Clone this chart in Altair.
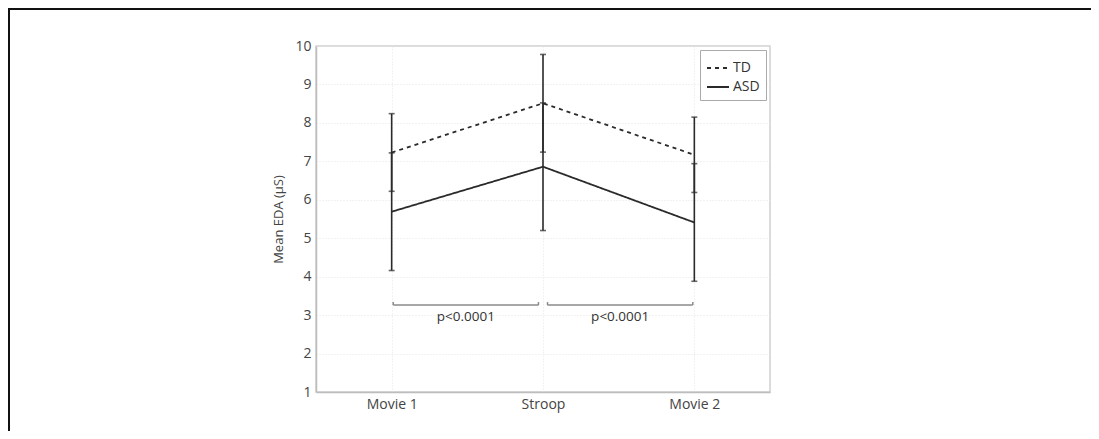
import altair as alt
import pandas as pd

conditions = ["Movie 1", "Stroop", "Movie 2"]
x_pos = [1, 2, 3]
td_mean = [7.23, 8.51, 7.17]
td_sd = [1.01, 1.27, 0.98]
asd_mean = [5.69, 6.86, 5.41]
asd_sd = [1.53, 1.66, 1.53]
bracket_start = [1.01, 2.03]
bracket_end = [1.97, 2.99]
bracket_y = [3.26, 3.26]
bracket_tip = [3.34, 3.34]
bracket_label = ["p<0.0001", "p<0.0001"]
label_y = [2.95, 2.95]
y_ticks = list(range(1, 11))

rows = []
for g, m, s in [("TD", td_mean, td_sd), ("ASD", asd_mean, asd_sd)]:
    for c, x, mm, ss in zip(conditions, x_pos, m, s):
        rows.append(dict(group=g, cond=c, x=x, mean=mm, lo=round(mm - ss, 3), hi=round(mm + ss, 3)))
df = pd.DataFrame(rows)

br = pd.DataFrame(dict(x1=bracket_start, x2=bracket_end, y=bracket_y, yt=bracket_tip,
                       label=bracket_label, ly=label_y,
                       xm=[(a + b) / 2 for a, b in zip(bracket_start, bracket_end)]))
br_ends = pd.DataFrame(dict(x=bracket_start + bracket_end, y=bracket_y * 2, yt=bracket_tip * 2))

xs = alt.Scale(domain=[0.5, 3.5], nice=False, zero=False)
ys = alt.Scale(domain=[1, 10], nice=False, zero=False)

label_expr = "datum.value == 1 ? 'Movie 1' : datum.value == 2 ? 'Stroop' : datum.value == 3 ? 'Movie 2' : ''"

x_axis = alt.Axis(values=x_pos, labelExpr=label_expr, ticks=False, labelPadding=5,
                  labelOverlap=False)
y_axis = alt.Axis(values=y_ticks, ticks=False, labelPadding=5, titlePadding=9,
                  labelOverlap=False, labelBound=False, labelFlush=False)
y_title = "Mean EDA (\u03bcS)"


def X(field):
    return alt.X(field, scale=xs, axis=x_axis, title=None)


def Y(field):
    return alt.Y(field, scale=ys, axis=y_axis, title=y_title)


frame = alt.Chart(pd.DataFrame({"a": [0]})).mark_rect(
    fillOpacity=0, stroke="#111", strokeWidth=2
).encode(x=alt.value(-307), x2=alt.value(1200), y=alt.value(-37), y2=alt.value(600))

lines = alt.Chart(df).mark_line(color="#2a2a2a", strokeWidth=1.8).encode(
    x=X("x:Q"), y=Y("mean:Q"),
    strokeDash=alt.StrokeDash("group:N",
                              scale=alt.Scale(domain=["TD", "ASD"], range=[[4, 4], [1, 0]]),
                              legend=alt.Legend(title=None, orient="top-right", offset=4,
                                                padding=6, strokeColor="#aaa", fillColor="white",
                                                labelFontSize=14, labelColor="#333",
                                                symbolType="stroke", symbolStrokeColor="#2a2a2a",
                                                symbolStrokeWidth=1.8, symbolSize=484,
                                                rowPadding=0, labelOffset=3)),
)

err = alt.Chart(df).mark_rule(color="#2a2a2a", strokeWidth=1.6).encode(
    x=X("x:Q"), y=Y("lo:Q"), y2="hi:Q")

caps = alt.Chart(df).transform_fold(["lo", "hi"], as_=["k", "v"]).mark_tick(
    color="#2a2a2a", orient="horizontal", size=6, thickness=1.6
).encode(x=X("x:Q"), y=Y("v:Q"))

bracket = alt.Chart(br).mark_rule(color="#8a8a8a", strokeWidth=1.5).encode(
    x=X("x1:Q"), x2="x2:Q", y=Y("y:Q"))
bracket_tips = alt.Chart(br_ends).mark_rule(color="#8a8a8a", strokeWidth=1.5).encode(
    x=X("x:Q"), y=Y("y:Q"), y2="yt:Q")
blabels = alt.Chart(br).mark_text(fontSize=13.5, color="#333", font="Open Sans").encode(
    x=X("xm:Q"), y=Y("ly:Q"), text="label:N")

chart = alt.layer(frame, lines, err, caps, bracket, bracket_tips, blabels).properties(
    width=454, height=346,
    autosize=alt.AutoSizeParams(type="none"),
    padding={"left": 308, "top": 38, "right": 321, "bottom": 39},
).configure_view(stroke="#cfcfcf", strokeWidth=1.5).configure_axis(
    grid=True, gridColor="#e4e4e4", gridDash=[1, 2], domainColor="#bdbdbd", domainWidth=1.5,
    labelFont="Open Sans", labelFontSize=14, labelColor="#444",
    titleFont="Open Sans", titleFontSize=13, titleFontWeight="normal", titleColor="#444",
).configure_legend(labelFont="Open Sans")

chart.save("out.html", embed_options={"renderer": "svg", "actions": False})
